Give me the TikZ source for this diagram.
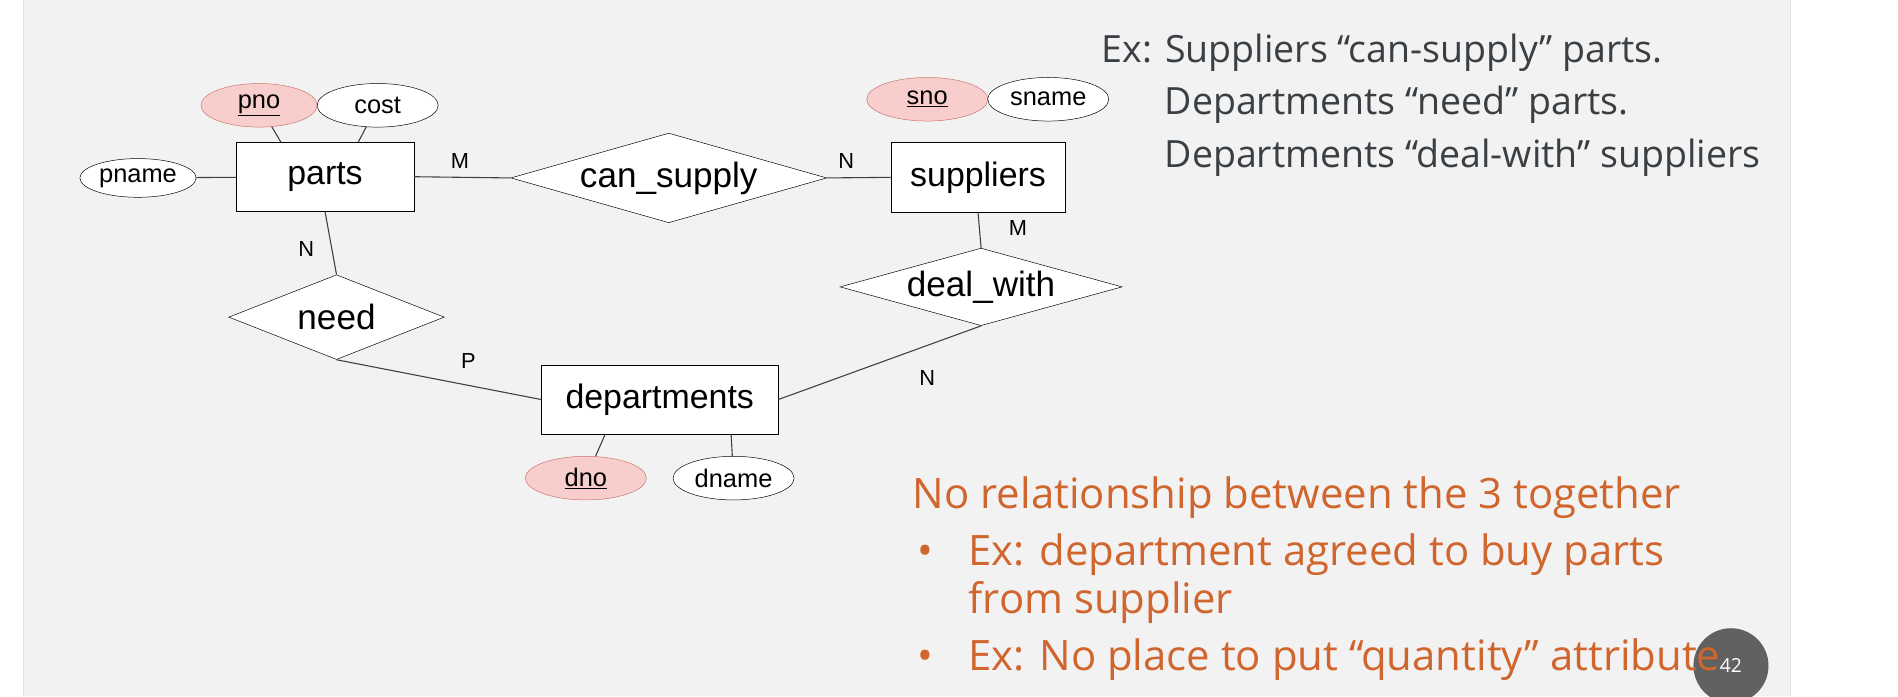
\documentclass[tikz,border=0pt]{standalone}
\usepackage{fontspec}
\setmainfont{Open Sans}
\newfontfamily\arialf{Liberation Sans}
\usetikzlibrary{shapes.geometric}
\definecolor{slidebg}{HTML}{F2F2F2}
\definecolor{pinkf}{HTML}{F8CECC}
\definecolor{pinkd}{HTML}{C87470}
\definecolor{orng}{HTML}{D0662E}
\definecolor{txtg}{HTML}{3A3F44}
\tikzset{
  ent/.style={draw=black, fill=white, rectangle, inner sep=0, font=\arialf\fontsize{28}{30}\selectfont},
  rel/.style={draw=black, fill=white, diamond, inner sep=0, font=\arialf\fontsize{29}{31}\selectfont},
  attr/.style={draw=black, fill=white, ellipse, inner sep=0, font=\arialf\fontsize{21}{23}\selectfont},
  key/.style={attr, draw=pinkd, fill=pinkf},
  card/.style={font=\arialf\fontsize{18}{20}\selectfont},
  conn/.style={draw=black!75, line width=0.9pt},
  ptxt/.style={anchor=base west, inner sep=0, font=\fontsize{31}{34}\selectfont, text=txtg},
  otxt/.style={anchor=base west, inner sep=0, font=\fontsize{34.6}{38}\selectfont, text=orng}
}
\begin{document}
\begin{tikzpicture}[x=1pt,y=-1pt]
\useasboundingbox (0,0) rectangle (1568,575);
\fill[white] (0,0) rectangle (1568,575);
\fill[slidebg] (19,0) rectangle (1479,575);
\draw[black!12] (19,0) -- (19,575) (1479,0) -- (1479,575);
% page number (behind text)
\node[circle, fill=black!62, minimum size=62, inner sep=0, text=white, font=\fontsize{16}{18}\selectfont] (pg) at (1430,550) {42};
% entities
\node[ent, minimum width=147, minimum height=57] (parts) at (268.5,146) {parts};
\node[ent, minimum width=144, minimum height=58] (sup) at (808,146.5) {suppliers};
\node[ent, minimum width=196, minimum height=57] (dep) at (545,330) {departments};
% relationships
\node[rel, shape aspect=3.54, minimum width=261, minimum height=74] (cs) at (552.5,147) {can\_supply};
\node[rel, shape aspect=3.64, minimum width=233, minimum height=64] (dw) at (810.5,237) {deal\_with};
\node[rel, shape aspect=2.54, minimum width=178, minimum height=70] (need) at (278,262) {need};
% attributes
\node[key, minimum width=96, minimum height=36] (pno) at (214,87) {\underline{pno}};
\node[attr, minimum width=100, minimum height=36] (cost) at (312,87) {cost};
\node[attr, minimum width=96, minimum height=32] (pname) at (114,147) {pname};
\node[key, minimum width=100, minimum height=36] (sno) at (766,82) {\underline{sno}};
\node[attr, minimum width=100, minimum height=36] (sname) at (866,82) {sname};
\node[key, minimum width=100, minimum height=36] (dno) at (484,395) {\underline{dno}};
\node[attr, minimum width=100, minimum height=36] (dname) at (606,395) {dname};
% connectors
\draw[conn] (pname) -- (parts);
\draw[conn] (pno) -- (parts.north west -| 232,0);
\draw[conn] (cost) -- (parts.north -| 296,0);
\draw[conn] (parts.east) -- (cs.west);
\draw[conn] (cs.east) -- (sup.west);
\draw[conn] (sup.south) -- (dw.north);
\draw[conn] (parts.south) -- (need.north);
\draw[conn] (need.south) -- (dep.west);
\draw[conn] (dw.south) -- (dep.east);
\draw[conn] (dep.south -| 500,0) -- (dno);
\draw[conn] (dep.south -| 604,0) -- (dname);
% cardinalities
\node[card] (c1) at (380,133) {M};
\node[card] (c2) at (699,133) {N};
\node[card] (c3) at (841,188) {M};
\node[card] (c4) at (253,206) {N};
\node[card] (c5) at (387,298) {P};
\node[card] (c6) at (766,312) {N};
% text
\node[ptxt] (t1) at (910,52) {Ex: Suppliers “can-supply” parts.};
\node[ptxt] (t2) at (962,95) {Departments “need” parts.};
\node[ptxt] (t3) at (962,138) {Departments “deal-with” suppliers};
\node[otxt] (o1) at (754,420) {No relationship between the 3 together};
\node[otxt] (b1) at (758,467) {•};
\node[otxt] (o2) at (800,467) {Ex: department agreed to buy parts};
\node[otxt] (o3) at (800,507) {from supplier};
\node[otxt] (b2) at (758,554) {•};
\node[otxt] (o4) at (800,554) {Ex: No place to put “quantity” attribute};
\end{tikzpicture}
\end{document}
